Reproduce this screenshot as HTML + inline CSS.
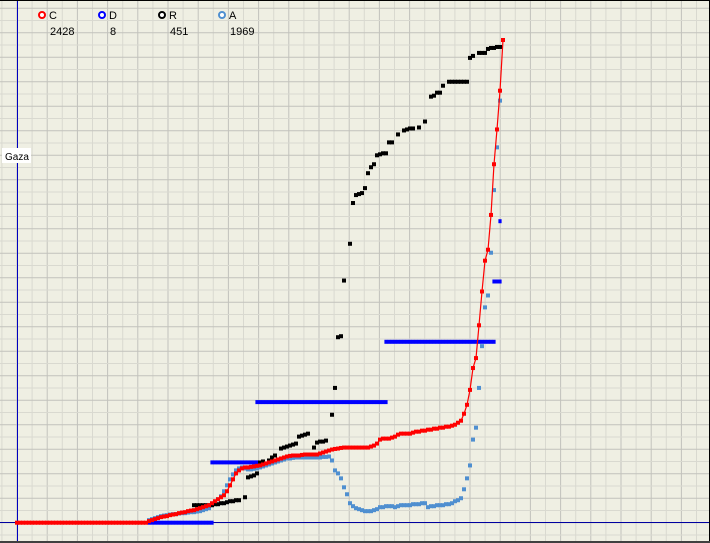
<!DOCTYPE html>
<html><head><meta charset="utf-8"><style>
html,body{margin:0;padding:0;background:#efefe3;}
svg{display:block;font-family:"Liberation Sans",sans-serif;}
</style></head><body>
<svg id="chart" width="710" height="543" viewBox="0 0 710 543">
<rect x="0" y="0" width="710" height="543" fill="#efefe3"/>
<g id="grid"></g>
<line x1="17.5" y1="0" x2="17.5" y2="543" stroke="#0000c0" stroke-width="1"/>
<line x1="0" y1="522.5" x2="710" y2="522.5" stroke="#0000a0" stroke-width="1"/>
<g id="series"></g>
<rect x="2" y="148" width="29" height="15" fill="#ffffff"/>
<text x="5" y="160" font-size="10" fill="#000">Gaza</text>
<g>
  <g><circle cx="42" cy="15" r="3" fill="#fff" stroke="#ff0000" stroke-width="2"/><text x="49" y="19" font-size="11">C</text><text x="50" y="35" font-size="11">2428</text></g>
  <g><circle cx="102" cy="15" r="3" fill="#fff" stroke="#0000ff" stroke-width="2"/><text x="109" y="19" font-size="11">D</text><text x="110" y="35" font-size="11">8</text></g>
  <g><circle cx="162" cy="15" r="3" fill="#fff" stroke="#000" stroke-width="2"/><text x="169" y="19" font-size="11">R</text><text x="170" y="35" font-size="11">451</text></g>
  <g><circle cx="222" cy="15" r="3" fill="#fff" stroke="#4f8fd0" stroke-width="2"/><text x="229" y="19" font-size="11">A</text><text x="230" y="35" font-size="11">1969</text></g>
</g>
<line x1="0" y1="0.5" x2="710" y2="0.5" stroke="#000"/>
<line x1="709.5" y1="0" x2="709.5" y2="543" stroke="#000"/>
<line x1="0" y1="542" x2="710" y2="542" stroke="#404040" stroke-width="2"/>
</svg>
<script>
// C series: start day 0, values per day
const cStart = 0;
const cValues = [0,0,0,0,0,0,0,0,0,0,0,0,0,0,0,0,0,0,0,0,0,0,0,0,0,0,0,0,0,0,0,0,0,0,0,0,0,0,0,0,0,0,0,0,
8,13,18,23,28,31,33,38,41,43,48,51,53,58,61,63,68,73,78,83,88,98,108,118,128,138,158,188,218,248,263,273,278,278,281,283,286,288,293,298,303,308,313,318,323,328,333,336,338,338,338,341,343,343,343,343,343,348,353,358,363,368,371,373,376,378,378,378,378,378,378,378,378,378,383,388,398,418,423,423,423,428,433,443,448,448,448,448,453,458,458,463,463,468,468,473,473,478,478,483,483,488,493,503,513,548,593,668,778,828,993,1163,1318,1373,1548,1803,1978,2173,2428];
// A series: start day 44
const aStart = 44;
const aValues = [13,18,23,28,33,36,38,41,43,43,46,48,48,51,53,53,56,58,63,68,73,88,103,118,133,158,188,218,243,263,273,278,273,268,268,271,273,278,283,288,293,298,303,308,313,318,323,323,326,328,328,328,328,328,328,328,328,328,331,331,333,313,263,248,223,178,143,98,83,73,68,63,58,58,58,63,68,78,78,83,83,83,78,83,88,88,88,88,93,93,93,98,98,78,83,83,88,88,88,93,93,98,108,113,123,168,223,288,418,478,678,888,1083,1143,1358,1673,1888,2123];
// R series: explicit days and values
const rDays = [59,60,61,62,63,64,65,66,67,68,69,70,71,72,73,74,76,77,78,79,80,81,82,84,85,86,88,89,90,91,92,93,94,95,96,97,99,100,101,102,103,105,106,107,108,109,111,112,113,114,115,116,117,118,119,120,121,122,123,124,125,127,129,130,131,132,134,136,138,139,140,141,142,144,145,146,147,148,149,150,151,152,154,155,156,157,158,159,160,161];
const rValues = [88,88,88,88,88,88,88,93,93,98,98,103,108,108,113,113,128,228,233,238,248,303,308,313,328,338,373,378,383,388,393,398,433,438,443,448,378,403,408,408,413,543,678,933,938,1218,1403,1608,1648,1653,1658,1683,1758,1788,1803,1848,1853,1858,1858,1913,1913,1953,1973,1978,1983,1983,1988,2018,2143,2148,2163,2163,2198,2218,2218,2218,2218,2218,2218,2218,2338,2348,2363,2363,2363,2383,2388,2388,2393,2393];
// D series: step levels
const dDays = [];
const dValues = [];
const dSteps = [[44,65,0],[65,80,1],[80,123,2],[123,159,3],[159,161,4],[161,161,5]];
dSteps.forEach(s => { for (let d = s[0]; d <= s[1]; d++) { dDays.push(d); dValues.push(s[2]); } });

const NS = "http://www.w3.org/2000/svg";
const X0 = 17, DAYPX = 3, Y0 = 522.7, YK = 482.7 / 2428, DK = 60.3;
function xs(d) { return X0 + d * DAYPX; }
function ys(v) { return Y0 - v * YK; }
function yd(v) { return Y0 - v * DK; }

const grid = document.getElementById('grid');
for (let k = -1; k < 48; k++) {
  const x = 17 + 15.1 * k;
  if (x < 0 || x > 710) continue;
  const l = document.createElementNS(NS, 'line');
  l.setAttribute('x1', x); l.setAttribute('x2', x); l.setAttribute('y1', 0); l.setAttribute('y2', 543);
  l.setAttribute('stroke', k % 2 === 0 ? '#c2c2bc' : '#d9d9d0'); l.setAttribute('stroke-width', 1);
  
  
  grid.appendChild(l);
}
for (let k = -2; k < 44; k++) {
  const y = 522.7 - 12.25 * k;
  if (y < 0 || y > 543) continue;
  const l = document.createElementNS(NS, 'line');
  l.setAttribute('x1', 0); l.setAttribute('x2', 710); l.setAttribute('y1', y); l.setAttribute('y2', y);
  l.setAttribute('stroke', k % 2 === 0 ? '#c2c2bc' : '#d9d9d0'); l.setAttribute('stroke-width', 1);
  
  
  grid.appendChild(l);
}

const layer = document.getElementById('series');
function sq(x, y, w, h, color, name) {
  const r = document.createElementNS(NS, 'rect');
  r.setAttribute('x', x - w / 2); r.setAttribute('y', y - h / 2);
  r.setAttribute('width', w); r.setAttribute('height', h); r.setAttribute('fill', color);
  
  
  layer.appendChild(r);
}
// D bars
dDays.forEach((d, i) => sq(xs(d), yd(dValues[i]), 3.2, 4, '#0000ff', 'd-point'));
// A points
aValues.forEach((v, i) => sq(xs(aStart + i), ys(v), 4, 4, '#4f8fd0', 'a-point'));
// R points
rDays.forEach((d, i) => sq(xs(d), ys(rValues[i]), 4, 4, '#000000', 'r-point'));
// C line + points
const pl = document.createElementNS(NS, 'polyline');
pl.setAttribute('points', cValues.map((v, i) => xs(cStart + i) + ',' + ys(v)).join(' '));
pl.setAttribute('fill', 'none'); pl.setAttribute('stroke', '#ff0000'); pl.setAttribute('stroke-width', 1.2);


layer.appendChild(pl);
cValues.forEach((v, i) => sq(xs(cStart + i), ys(v), 4, 4, '#ff0000', 'c-point'));
</script>
</body></html>
